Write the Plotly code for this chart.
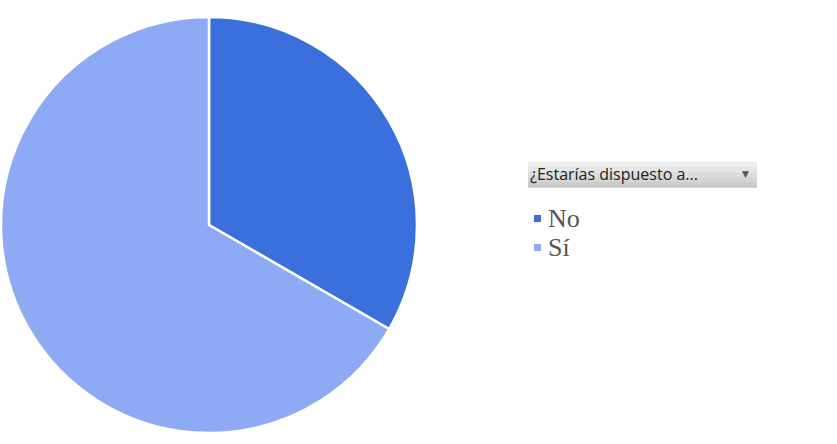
import plotly.graph_objects as go

# Survey answers and their share
labels = ["No", "Sí"]
values = [1, 2]
colors = ["#3B6FDB", "#8FAAF4"]
field_title = "¿Estarías dispuesto a..."

W, H = 837, 444


def px_x(x):
    return x / W


def px_y(y):
    return 1 - y / H


fig = go.Figure()

# Pie: centre at (209, 225) px
cx, cy, r = 209, 225, 208
fig.add_trace(go.Pie(
    labels=labels,
    values=values,
    sort=False,
    direction="clockwise",
    rotation=0,
    marker=dict(colors=colors, line=dict(color="white", width=2.5)),
    textinfo="none",
    hoverinfo="label+percent",
    showlegend=False,
    domain=dict(x=[px_x(cx - r), px_x(cx + r)], y=[px_y(cy + r), px_y(cy - r)]),
))

shapes = []
# Field button header (gray gradient built from stripes)
bx0, bx1, by0, by1 = 528, 757, 162, 187
grad = ["#eeeeee", "#e6e6e6", "#dddddd", "#d5d5d5", "#cdcdcd"]
step = (by1 - by0) / len(grad)
for i, c in enumerate(grad):
    shapes.append(dict(
        type="rect", xref="paper", yref="paper", layer="below",
        x0=px_x(bx0), x1=px_x(bx1),
        y0=px_y(by0 + (i + 1) * step), y1=px_y(by0 + i * step),
        line=dict(width=0), fillcolor=c,
    ))
shapes.append(dict(
    type="line", xref="paper", yref="paper",
    x0=px_x(bx0), x1=px_x(bx1), y0=px_y(by1), y1=px_y(by1),
    line=dict(color="#b5b5b5", width=1),
))

annotations = [
    dict(text=field_title, xref="paper", yref="paper",
         x=px_x(528), y=px_y(174), xanchor="left", yanchor="middle",
         showarrow=False, font=dict(family="Open Sans", size=16, color="#222222")),
    dict(text="▼", xref="paper", yref="paper",
         x=px_x(745), y=px_y(174), xanchor="center", yanchor="middle",
         showarrow=False, font=dict(family="DejaVu Sans", size=9, color="#555555")),
]

# Legend entries
row_y = [218, 247]
for lab, col, yy in zip(labels, colors, row_y):
    shapes.append(dict(
        type="rect", xref="paper", yref="paper",
        x0=px_x(534), x1=px_x(541), y0=px_y(yy + 4), y1=px_y(yy - 3),
        line=dict(width=0), fillcolor=col,
    ))
    annotations.append(dict(
        text=lab, xref="paper", yref="paper",
        x=px_x(546), y=px_y(yy + 1), xanchor="left", yanchor="middle",
        showarrow=False, font=dict(family="Liberation Serif", size=26, color="#555555"),
    ))

fig.update_layout(
    width=W, height=H,
    margin=dict(l=0, r=0, t=0, b=0),
    paper_bgcolor="white",
    plot_bgcolor="white",
    shapes=shapes,
    annotations=annotations,
    showlegend=False,
)

fig.write_html("out.html")
